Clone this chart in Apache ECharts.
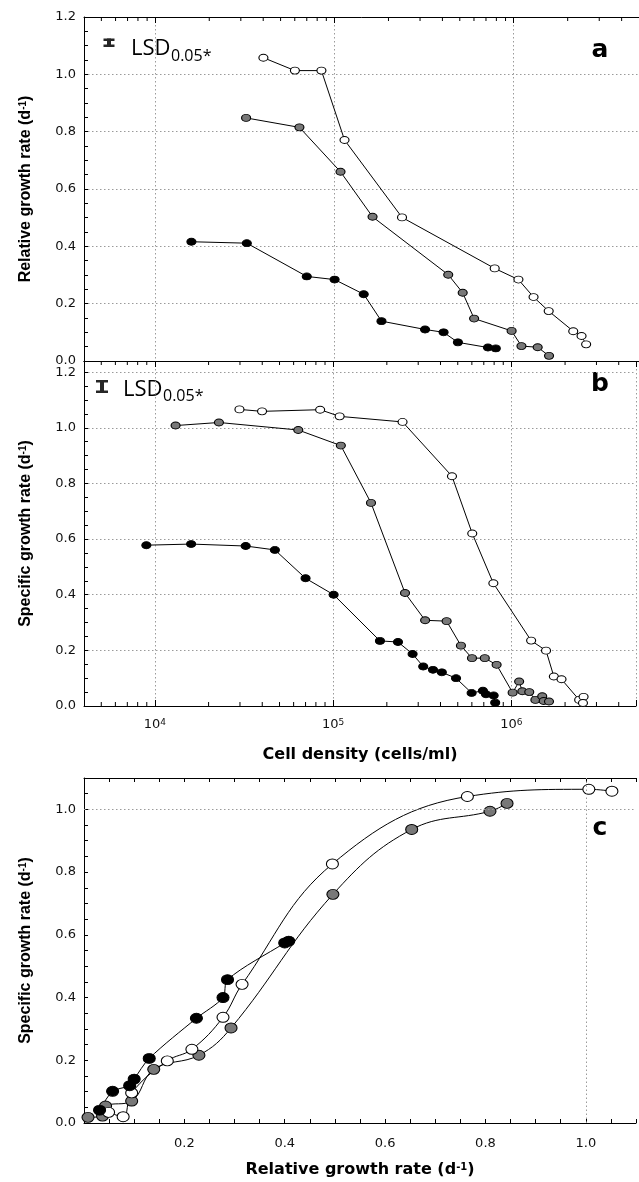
<!DOCTYPE html>
<html><head><meta charset="utf-8">
<script src="https://cdn.jsdelivr.net/npm/echarts@6/dist/echarts.min.js"></script>
<style>html,body{margin:0;padding:0;background:#fff;}#chart{width:639px;height:1182px;}</style>
</head><body><div id="chart"></div>
<script>
// ---------- Panel a: relative growth rate vs cell density ----------
const aOpen  = [[40100,1.058],[60100,1.013],[84500,1.013],[113700,0.771],[238000,0.501],[783000,0.323],[1062000,0.284],[1290000,0.223],[1567000,0.174],[2148000,0.104],[2390000,0.087],[2535000,0.058]];
const aGray  = [[32100,0.848],[63700,0.815],[108000,0.660],[163000,0.503],[431000,0.301],[519000,0.238],[601000,0.148],[973000,0.105],[1104000,0.052],[1360000,0.048],[1574000,0.018]];
const aBlack = [[15900,0.416],[32400,0.411],[70000,0.295],[100100,0.284],[145500,0.233],[182800,0.139],[320000,0.110],[406000,0.100],[488000,0.065],[718000,0.047],[794000,0.044]];
// ---------- Panel b: specific growth rate vs cell density ----------
const bOpen  = [[29800,1.066],[39900,1.059],[84500,1.065],[108700,1.041],[245000,1.021],[464000,0.826],[603000,0.620],[792000,0.441],[1290000,0.235],[1564000,0.199],[1730000,0.106],[1910000,0.096],[2400000,0.022],[2540000,0.033],[2520000,0.011]];
const bGray  = [[13060,1.008],[22860,1.019],[63700,0.992],[110400,0.936],[163000,0.730],[253000,0.406],[328000,0.308],[433000,0.305],[521000,0.217],[601000,0.172],[709000,0.172],[826000,0.148],[1016000,0.048],[1105000,0.088],[1151000,0.053],[1259000,0.050],[1363000,0.022],[1489000,0.035],[1517000,0.018],[1625000,0.016]];
const bBlack = [[8950,0.578],[15960,0.582],[32300,0.575],[47100,0.561],[70000,0.459],[100600,0.400],[183000,0.234],[231000,0.230],[279000,0.187],[320000,0.142],[363000,0.130],[407000,0.121],[489000,0.100],[598000,0.047],[692000,0.055],[720000,0.042],[795000,0.038],[811000,0.012]];
// ---------- Panel c: specific vs relative growth rate ----------
const cBlack = [[0.031,0.041],[0.057,0.101],[0.091,0.119],[0.100,0.140],[0.130,0.206],[0.224,0.334],[0.277,0.400],[0.286,0.457],[0.400,0.574],[0.408,0.580]];
const cOpen  = [[0.049,0.034],[0.078,0.020],[0.095,0.096],[0.166,0.198],[0.215,0.235],[0.277,0.337],[0.315,0.442],[0.495,0.826],[0.764,1.041],[1.006,1.064],[1.052,1.058]];
const cGray  = [[0.008,0.018],[0.037,0.022],[0.043,0.054],[0.095,0.070],[0.139,0.171],[0.229,0.216],[0.293,0.303],[0.496,0.729],[0.653,0.936],[0.809,0.994],[0.843,1.019]];

// ---------- Tick labels / tick values ----------
const logLabelExponents = [4, 5, 6];
const logMinorTicks = [5000,6000,7000,8000,9000,20000,30000,40000,50000,60000,70000,80000,90000,200000,300000,400000,500000,600000,700000,800000,900000,2000000,3000000,4000000];
const yLabelsAB = [0, 0.2, 0.4, 0.6, 0.8, 1.0, 1.2];
const yLabelsC  = [0, 0.2, 0.4, 0.6, 0.8, 1.0];
const xLabelsC  = [0.2, 0.4, 0.6, 0.8, 1.0];
const cRefX = [1.0];
const cRefY = [1.0];

const BLACK = '#000', GRAY = '#787878', WHITE = '#ffffff';
const dotted = {color:'#9a9a9a', type:[1.5,2.5], width:1};
const axisLineS = {show:true, onZero:false, lineStyle:{color:'#000', width:1}};
const tickLabelFont = {fontFamily:'DejaVu Sans', fontSize:13, color:'#111'};

function pickLabel(list){
  return function(v){ return list.some(t => Math.abs(t - v) < 1e-6) ? v.toFixed(1) : ''; };
}
function logLabel(v){
  const e = Math.log10(v), r = Math.round(e);
  if (Math.abs(e - r) > 1e-6 || logLabelExponents.indexOf(r) < 0) return '';
  return '{b|10}{s|' + r + '}';
}
const supRich = {s:{fontSize:10, fontWeight:'bold', verticalAlign:'top', lineHeight:10}};

function logAxis(grid, pos, opts){
  return Object.assign({type:'log', logBase:10, gridIndex:grid, position:pos, min:4000, max:5000000,
    axisLine:axisLineS, axisTick:{show:true, inside:true, length:6, lineStyle:{color:'#000'}},
    axisLabel:{show:false}, splitLine:{show:false}}, opts||{});
}
function valAxis(grid, pos, min, max, interval, opts){
  return Object.assign({type:'value', gridIndex:grid, position:pos, min:min, max:max, interval:interval,
    axisLine:axisLineS, axisTick:{show:true, inside:true, length:4, lineStyle:{color:'#000'}},
    axisLabel:{show:false}, splitLine:{show:false}}, opts||{});
}
function gridLineAxis(grid, max){
  return {type:'value', gridIndex:grid, position:'right', min:0, max:max, interval:0.2,
    axisLine:{show:false}, axisTick:{show:false}, axisLabel:{show:false}, splitLine:{show:true, lineStyle:dotted}};
}
function lineSeries(data, fill, xi, yi, size, smooth){
  return {type:'line', data:data, xAxisIndex:xi, yAxisIndex:yi, symbol:'circle', symbolSize:size,
    showSymbol:true, showAllSymbol:true, smooth:smooth||false, silent:true, animation:false,
    lineStyle:{color:'#000', width:1}, itemStyle:{color:fill, borderColor:'#000', borderWidth:1},
    emphasis:{disabled:true}};
}
function logTickSeries(xi, yi, yTop, showTop, showBottom){
  return {type:'custom', xAxisIndex:xi, yAxisIndex:yi, silent:true, animation:false, z:5,
    data: logMinorTicks.map(v => [v, 0]), encode:{x:0, y:1},
    renderItem: function(params, api){
      const v = api.value(0); const ch = [];
      if (showTop){ const p = api.coord([v, yTop]); ch.push({type:'line', shape:{x1:p[0], y1:p[1], x2:p[0], y2:p[1]+4}, style:{stroke:'#000', lineWidth:1}}); }
      if (showBottom){ const q = api.coord([v, 0]); ch.push({type:'line', shape:{x1:q[0], y1:q[1], x2:q[0], y2:q[1]-4}, style:{stroke:'#000', lineWidth:1}}); }
      return {type:'group', children:ch};
    }};
}
function ibeam(cx, top, bottom, w){
  const stem = 4, serif = 2.5;
  return {type:'group', children:[
    {type:'rect', shape:{x:cx-w/2, y:top, width:w, height:serif}, style:{fill:'#262626'}},
    {type:'rect', shape:{x:cx-stem/2, y:top, width:stem, height:bottom-top}, style:{fill:'#262626'}},
    {type:'rect', shape:{x:cx-w/2, y:bottom-serif, width:w, height:serif}, style:{fill:'#262626'}}
  ]};
}
function txt(x, y, text, font, align){
  return {type:'text', x:x, y:y, style:{text:text, font:font, fill:'#000', align:align||'left', verticalAlign:'middle'}};
}

const SMALL = [9,7], BIG = [12,10];
const option = {
  animation:false,
  backgroundColor:'#fff',
  grid:[
    {left:84, top:17, right:-8, height:344},
    {left:84, top:361, right:-8, height:345},
    {left:84, top:778, right:-9, height:345}
  ],
  xAxis:[
    logAxis(0,'bottom',{axisTick:{show:false}, splitLine:{show:true, lineStyle:dotted}}),
    logAxis(0,'top'),
    logAxis(1,'bottom',{splitLine:{show:true, lineStyle:dotted},
      axisLabel:{show:true, margin:12, formatter:logLabel, color:'#111',
        rich:{b:{fontFamily:'DejaVu Sans', fontSize:13, color:'#111'}, s:{fontFamily:'DejaVu Sans', fontSize:9, color:'#111', verticalAlign:'top', lineHeight:9}}},
      name:'Cell density (cells/ml)', nameLocation:'middle', nameGap:41,
      nameTextStyle:{fontFamily:'DejaVu Sans', fontWeight:'bold', fontSize:16, color:'#000'}}),
    logAxis(1,'top'),
    valAxis(2,'bottom',0,1.1,0.05,{axisLabel:Object.assign({show:true, margin:14, formatter:function(v){return (v>0.01 && xLabelsC.some(t=>Math.abs(t-v)<1e-6)) ? v.toFixed(1) : '';}}, tickLabelFont),
      name:'Relative growth rate (d{s|-1})', nameLocation:'middle', nameGap:39,
      nameTextStyle:{fontFamily:'DejaVu Sans', fontWeight:'bold', fontSize:16, color:'#000', rich:supRich}}),
    valAxis(2,'top',0,1.1,0.05)
  ],
  yAxis:[
    valAxis(0,'left',0,1.2,0.05,{axisLabel:Object.assign({show:true, margin:8, formatter:pickLabel(yLabelsAB)}, tickLabelFont),
      name:'Relative growth rate (d{s|-1})', nameLocation:'middle', nameGap:50,
      nameTextStyle:{fontFamily:'Liberation Sans', fontWeight:'bold', fontSize:16, color:'#000', rich:supRich}}),
    gridLineAxis(0,1.2),
    valAxis(1,'left',0,1.24,0.05,{axisLabel:Object.assign({show:true, margin:8, formatter:pickLabel(yLabelsAB)}, tickLabelFont),
      name:'Specific growth rate (d{s|-1})', nameLocation:'middle', nameGap:50,
      nameTextStyle:{fontFamily:'Liberation Sans', fontWeight:'bold', fontSize:16, color:'#000', rich:supRich}}),
    gridLineAxis(1,1.24),
    valAxis(2,'left',0,1.1,0.05,{axisLabel:Object.assign({show:true, margin:8, formatter:pickLabel(yLabelsC)}, tickLabelFont),
      name:'Specific growth rate (d{s|-1})', nameLocation:'middle', nameGap:50,
      nameTextStyle:{fontFamily:'Liberation Sans', fontWeight:'bold', fontSize:16, color:'#000', rich:supRich}})
  ],
  series:[
    logTickSeries(1, 0, 1.2, true, false),
    logTickSeries(3, 2, 1.24, true, true),
    lineSeries(aBlack, BLACK, 0, 0, SMALL),
    lineSeries(aGray, GRAY, 0, 0, SMALL),
    lineSeries(aOpen, WHITE, 0, 0, SMALL),
    lineSeries(bBlack, BLACK, 2, 2, SMALL),
    lineSeries(bGray, GRAY, 2, 2, SMALL),
    lineSeries(bOpen, WHITE, 2, 2, SMALL),
    Object.assign(lineSeries(cGray, GRAY, 4, 4, BIG, 0.4), {
      markLine:{silent:true, symbol:'none', animation:false, label:{show:false}, lineStyle:dotted,
        data: cRefX.map(v => ({xAxis:v})).concat(cRefY.map(v => ({yAxis:v})))}}),
    lineSeries(cOpen, WHITE, 4, 4, BIG, 0.4),
    lineSeries(cBlack, BLACK, 4, 4, BIG, 0.3)
  ],
  graphic:[
    ibeam(109, 38.5, 47, 11),
    txt(131, 49, 'LSD', '22px "Open Sans"'),
    txt(171, 56, '0.05*', '16px "Open Sans"'),
    ibeam(102, 380, 393, 12),
    txt(123, 389.5, 'LSD', '22px "Open Sans"'),
    txt(163, 396, '0.05*', '16px "Open Sans"'),
    txt(600, 50.5, 'a', 'bold 25px "DejaVu Sans"', 'center'),
    txt(600, 384.5, 'b', 'bold 25px "DejaVu Sans"', 'center'),
    txt(600, 828.5, 'c', 'bold 25px "DejaVu Sans"', 'center')
  ]
};
const chart = echarts.init(document.getElementById('chart'), null, {renderer:'canvas'});
chart.setOption(option);
</script></body></html>
